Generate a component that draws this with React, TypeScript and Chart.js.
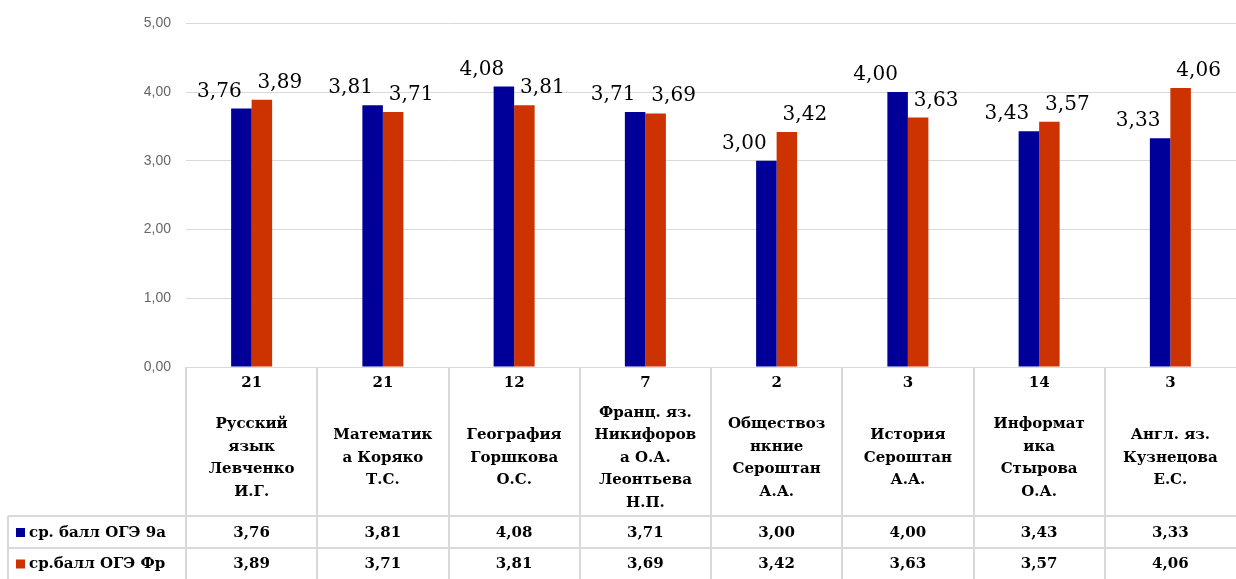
import React, { useEffect, useRef } from "react";
import { Chart, registerables } from "chart.js";

Chart.register(...registerables);

const categoryLines: string[][] = [
  ["Русский", "язык", "Левченко", "И.Г."],
  ["Математик", "а Коряко", "Т.С."],
  ["География", "Горшкова", "О.С."],
  ["Франц. яз.", "Никифоров", "а О.А.", "Леонтьева", "Н.П."],
  ["Обществоз", "нкние", "Сероштан", "А.А."],
  ["История", "Сероштан", "А.А."],
  ["Информат", "ика", "Стырова", "О.А."],
  ["Англ. яз.", "Кузнецова", "Е.С."],
];
const counts: string[] = ["21", "21", "12", "7", "2", "3", "14", "3"];
const seriesNames: string[] = ["ср. балл ОГЭ 9а", "ср.балл ОГЭ Фр"];
const series9a: number[] = [3.76, 3.81, 4.08, 3.71, 3.0, 4.0, 3.43, 3.33];
const seriesFr: number[] = [3.89, 3.71, 3.81, 3.69, 3.42, 3.63, 3.57, 4.06];
const yTicks: number[] = [0, 1, 2, 3, 4, 5];

const COLORS = ["#000099", "#CC3300"];
const GRID = "#d9d9d9";
const fmt = (v: number) => v.toFixed(2).replace(".", ",");

const W = 1236;
const H = 579;

const tablePlugin = {
  id: "tablePlugin",
  afterDatasetsDraw(chart: any) {
    const ctx = chart.ctx as CanvasRenderingContext2D;
    const area = chart.chartArea;
    const xs = chart.scales.x;
    const n = categoryLines.length;
    const colW = (area.right - area.left) / n;
    // value labels
    ctx.save();
    ctx.font = "20px 'DejaVu Serif'";
    ctx.fillStyle = "#000";
    ctx.textAlign = "center";
    ctx.textBaseline = "alphabetic";
    const offs = [-22, 18];
    chart.data.datasets.forEach((ds: any, di: number) => {
      const meta = chart.getDatasetMeta(di);
      meta.data.forEach((el: any, j: number) => {
        ctx.fillText(fmt(ds.data[j]), el.x + offs[di], el.y - 12);
      });
    });
    ctx.restore();

    // table
    const top = area.bottom;
    const row1 = 516;
    const row2 = 548;
    const bottom = H;
    const leftEdge = 8;
    ctx.save();
    ctx.strokeStyle = GRID;
    ctx.lineWidth = 2;
    ctx.beginPath();
    for (let i = 0; i < n; i++) {
      const x = Math.round(area.left + i * colW);
      ctx.moveTo(x, top);
      ctx.lineTo(x, bottom);
    }
    ctx.moveTo(leftEdge, row1);
    ctx.lineTo(leftEdge, bottom);
    ctx.moveTo(leftEdge, row1);
    ctx.lineTo(area.right, row1);
    ctx.moveTo(leftEdge, row2);
    ctx.lineTo(area.right, row2);
    ctx.stroke();

    ctx.fillStyle = "#000";
    ctx.font = "bold 15px 'DejaVu Serif'";
    ctx.textAlign = "center";
    ctx.textBaseline = "middle";
    const lh = 22.5;
    for (let i = 0; i < n; i++) {
      const cx = xs.getPixelForValue(i);
      ctx.fillText(counts[i], cx, 383);
      const lines = categoryLines[i];
      const startY = 458 - ((lines.length - 1) * lh) / 2;
      lines.forEach((ln, k) => ctx.fillText(ln, cx, startY + k * lh));
      ctx.fillText(fmt(series9a[i]), cx, (row1 + row2) / 2 + 1);
      ctx.fillText(fmt(seriesFr[i]), cx, (row2 + bottom) / 2 + 1);
    }
    // legend cells
    ctx.textAlign = "left";
    const rowsY = [(row1 + row2) / 2 + 1, (row2 + bottom) / 2 + 1];
    seriesNames.forEach((nm, k) => {
      ctx.fillStyle = COLORS[k];
      ctx.fillRect(16, rowsY[k] - 5, 9, 9);
      ctx.fillStyle = "#000";
      ctx.fillText(nm, 29, rowsY[k]);
    });
    ctx.restore();
  },
};

export default function App() {
  const ref = useRef<HTMLCanvasElement | null>(null);
  useEffect(() => {
    document.body.style.margin = "0";
    if (!ref.current) return;
    const chart = new Chart(ref.current, {
      type: "bar",
      data: {
        labels: categoryLines.map((l) => l.join(" ")),
        datasets: [
          {
            label: seriesNames[0],
            data: series9a,
            backgroundColor: COLORS[0],
            categoryPercentage: 0.3125,
            barPercentage: 1,
          },
          {
            label: seriesNames[1],
            data: seriesFr,
            backgroundColor: COLORS[1],
            categoryPercentage: 0.3125,
            barPercentage: 1,
          },
        ],
      },
      options: {
        responsive: false,
        animation: false,
        layout: { padding: { top: 23, bottom: H - 367, left: 0, right: 0 } },
        plugins: {
          legend: { display: false },
          tooltip: { enabled: false },
        },
        scales: {
          x: { display: false },
          y: {
            min: yTicks[0],
            max: yTicks[yTicks.length - 1],
            afterBuildTicks: (s: any) => {
              s.ticks = yTicks.map((v) => ({ value: v }));
            },
            afterFit: (s: any) => {
              s.width = 186;
            },
            border: { display: false },
            grid: { color: GRID, lineWidth: 1, drawTicks: false },
            ticks: {
              padding: 15,
              color: "#666666",
              font: { family: "'Liberation Sans'", size: 14 },
              callback: (v: any) => fmt(Number(v)),
            },
          },
        },
      },
      plugins: [tablePlugin],
    });
    return () => chart.destroy();
  }, []);
  return (
    <div style={{ width: W, height: H }}>
      <canvas ref={ref} width={W} height={H} />
    </div>
  );
}
